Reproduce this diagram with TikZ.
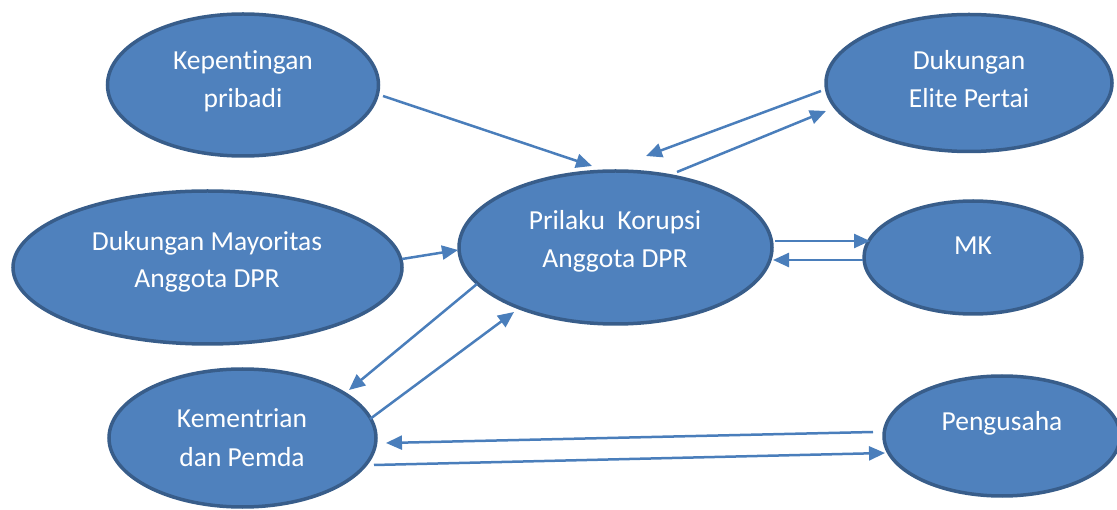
\documentclass[tikz,border=0pt]{standalone}
\usepackage{fontspec}
\setmainfont{Carlito}[RawFeature={-liga}]
\usetikzlibrary{shapes.geometric,arrows.meta}
\definecolor{efill}{HTML}{4F81BD}
\definecolor{edraw}{HTML}{385D8A}
\definecolor{arr}{HTML}{4A7EBB}
\tikzset{
  oval/.style={ellipse,fill=efill,draw=edraw,line width=3.5pt,inner sep=0pt},
  lbl/.style={anchor=base,text=white,inner sep=0pt,font=\fontsize{27.5}{32}\selectfont},
  conn/.style={draw=arr,line width=2.5pt,-{Triangle[length=16pt,width=14pt]}}
}
\begin{document}
\begin{tikzpicture}[x=1pt,y=-1pt]
\useasboundingbox (0,0) rectangle (1117,510);
% ellipses
\node[oval,minimum width=271pt,minimum height=142pt] (kp) at (243,85) {};
\node[oval,minimum width=286pt,minimum height=137pt] (de) at (969,83) {};
\node[oval,minimum width=389pt,minimum height=153pt] (dm) at (207.5,267.5) {};
\node[oval,minimum width=313pt,minimum height=153pt] (pk) at (615.5,247.5) {};
\node[oval,minimum width=218pt,minimum height=113pt] (mk) at (973,257.5) {};
\node[oval,minimum width=267pt,minimum height=138pt] (km) at (242.5,438) {};
\node[oval,minimum width=236pt,minimum height=120pt] (pg) at (1002,436) {};
% labels
\node[lbl] (kp1) at (243,70) {Kepentingan};
\node[lbl] (kp2) at (243,108) {pribadi};
\node[lbl] (de1) at (969,70) {Dukungan};
\node[lbl] (de2) at (969,108) {Elite Pertai};
\node[lbl] (dm1) at (207,251) {Dukungan Mayoritas};
\node[lbl] (dm2) at (207,288) {Anggota DPR};
\node[lbl] (pk1) at (615,230) {Prilaku\ \ Korupsi};
\node[lbl] (pk2) at (615,268) {Anggota DPR};
\node[lbl] (mk1) at (973,255) {MK};
\node[lbl] (km1) at (242,428) {Kementrian};
\node[lbl] (km2) at (242,467) {dan Pemda};
\node[lbl] (pg1) at (1002,431) {Pengusaha};
% connector end points
\coordinate (a1s) at (383,96);  \coordinate (a1e) at (592,166);
\coordinate (a2s) at (821,91);  \coordinate (a2e) at (646,156);
\coordinate (a3s) at (677,172); \coordinate (a3e) at (826,111);
\coordinate (a4s) at (402,259); \coordinate (a4e) at (458,250);
\coordinate (a5s) at (775,241); \coordinate (a5e) at (870,241);
\coordinate (a6s) at (863,260); \coordinate (a6e) at (773,260);
\coordinate (a7s) at (477,284); \coordinate (a7e) at (349,390);
\coordinate (a8s) at (370,419); \coordinate (a8e) at (514,312);
\coordinate (a9s) at (873,432); \coordinate (a9e) at (386,443);
\coordinate (a10s) at (374,465); \coordinate (a10e) at (885,453);
% connectors
\draw[conn] (a1s) -- (a1e);
\draw[conn] (a2s) -- (a2e);
\draw[conn] (a3s) -- (a3e);
\draw[conn] (a4s) -- (a4e);
\draw[conn] (a5s) -- (a5e);
\draw[conn] (a6s) -- (a6e);
\draw[conn] (a7s) -- (a7e);
\draw[conn] (a8s) -- (a8e);
\draw[conn] (a9s) -- (a9e);
\draw[conn] (a10s) -- (a10e);
\end{tikzpicture}
\end{document}
